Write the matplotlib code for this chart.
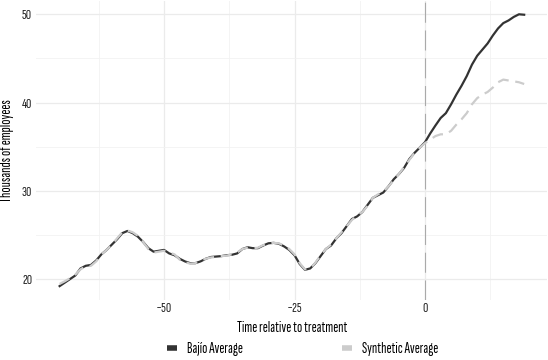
import matplotlib
matplotlib.use("Agg")
import matplotlib.pyplot as plt
from matplotlib.lines import Line2D
from matplotlib.ticker import FixedLocator

plt.rcParams['font.family'] = ['Sofia Sans Extra Condensed', 'Barlow Condensed', 'DejaVu Sans']

time = list(range(-70, 20))
bajio = [19.2, 19.6, 20.0, 20.4, 21.2, 21.5, 21.6, 22.1, 22.8, 23.3,
         23.9, 24.5, 25.2, 25.45, 25.2, 24.8, 24.2, 23.5, 23.1, 23.2,
         23.3, 22.9, 22.7, 22.3, 22.0, 21.8, 21.8, 22.0, 22.3, 22.5,
         22.55, 22.6, 22.7, 22.75, 22.9, 23.4, 23.6, 23.5, 23.5, 23.8,
         24.05, 24.1, 24.0, 23.7, 23.3, 22.7, 21.7, 21.05, 21.2, 21.8,
         22.6, 23.4, 23.8, 24.6, 25.2, 26.0, 26.8, 27.1, 27.6, 28.4,
         29.2, 29.5, 29.8, 30.5, 31.3, 31.9, 32.6, 33.6, 34.3, 34.9,
         35.5, 36.5, 37.4, 38.25, 38.8, 39.8, 40.9, 41.9, 43.0, 44.3,
         45.3, 46.0, 46.7, 47.6, 48.4, 49.0, 49.3, 49.7, 50.0, 49.95]
synthetic = [19.45, 19.75, 20.1, 20.5, 21.1, 21.45, 21.5, 22.0, 22.8, 23.3,
             23.9, 24.6, 25.3, 25.5, 25.3, 24.9, 24.2, 23.4, 23.0, 23.1,
             23.2, 23.0, 22.8, 22.2, 21.9, 21.75, 21.8, 22.1, 22.3, 22.45,
             22.5, 22.6, 22.65, 22.8, 23.0, 23.4, 23.55, 23.5, 23.55, 23.85,
             24.0, 24.1, 24.05, 23.8, 23.4, 22.8, 21.8, 21.1, 21.2, 21.85,
             22.7, 23.4, 23.9, 24.6, 25.3, 26.0, 26.7, 27.2, 27.6, 28.3,
             29.2, 29.6, 29.9, 30.5, 31.2, 31.9, 32.7, 33.5, 34.3, 34.9,
             35.4, 35.8, 36.2, 36.4, 36.4, 36.8, 37.5, 38.1, 38.8, 39.8,
             40.5, 40.9, 41.2, 41.7, 42.3, 42.6, 42.5, 42.4, 42.3, 42.1]
series_names = ["Bajío Average", "Synthetic Average"]
x_ticks = [-50, -25, 0]
y_ticks = [20, 30, 40, 50]

fig = plt.figure(figsize=(5.48, 3.6), dpi=100)
ax = fig.add_axes([36.4 / 548, 1 - 299.7 / 360, (547.4 - 36.4) / 548, 299 / 360])

ax.plot(time, bajio, color='#333333', lw=1.6, zorder=3)
ax.plot(time, synthetic, color='#cccccc', lw=1.6, ls=(0, (5, 3)), zorder=4)
ax.axvline(0, color='#aaaaaa', lw=0.8, ls=(0, (18, 7)), zorder=2)

ax.set_xlim(-74.45, 23.45)
ax.set_ylim(17.66, 51.54)
ax.xaxis.set_major_locator(FixedLocator(x_ticks))
ax.yaxis.set_major_locator(FixedLocator(y_ticks))
ax.xaxis.set_minor_locator(FixedLocator([-62.5, -37.5, -12.5, 12.5]))
ax.yaxis.set_minor_locator(FixedLocator([25, 35, 45]))
ax.grid(which='major', color='#ebebeb', lw=0.9)
ax.grid(which='minor', color='#f2f2f2', lw=0.6)
ax.set_axisbelow(True)
for s in ax.spines.values():
    s.set_visible(False)
ax.tick_params(axis='y', which='both', length=0, labelsize=10.5, colors='#222222', pad=3)
ax.tick_params(axis='x', which='both', length=0, labelsize=10.5, colors='#222222', pad=1.5)
ax.set_xlabel('Time relative to treatment', fontsize=11)
ax.set_ylabel('Thousands of employees', fontsize=11)
ax.xaxis.set_label_coords(0.5, -(321 - 299.7) / 299)
ax.xaxis.label.set_va('top')
ax.yaxis.set_label_coords(-(36.4 - 14) / 511, 0.5)

handles = [Line2D([], [], color='#333333', lw=4, solid_capstyle='butt'),
           Line2D([], [], color='#cccccc', lw=4, solid_capstyle='butt')]
fig.legend(handles, series_names, loc='center', bbox_to_anchor=(0.552, 1 - 349 / 360),
           ncol=2, frameon=False, fontsize=11, handlelength=0.65, handletextpad=0.65,
           columnspacing=6.5, borderpad=0, borderaxespad=0)

fig.savefig('out.png', dpi=100)
